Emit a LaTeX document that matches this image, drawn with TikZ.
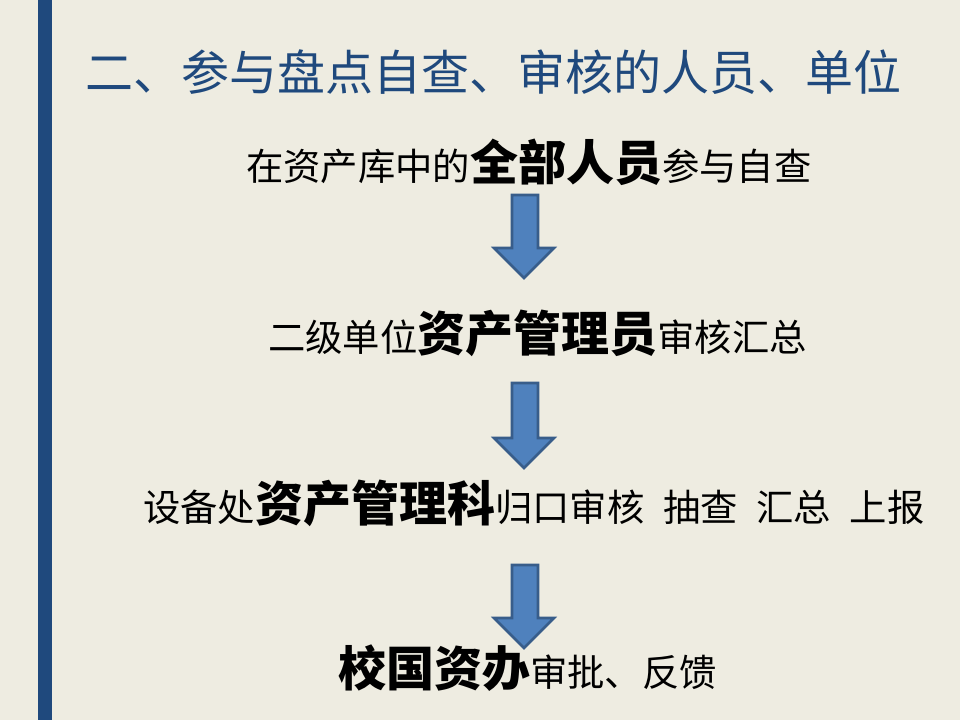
\documentclass[tikz,border=0pt]{standalone}
\usepackage{fontspec}
\setmainfont{Noto Sans CJK SC}
\definecolor{bg}{HTML}{EEECE1}
\definecolor{bar}{HTML}{1F497D}
\definecolor{arrf}{HTML}{4F81BD}
\definecolor{arrd}{HTML}{385D8A}
\newcommand{\bigb}[1]{{\fontsize{36}{40}\selectfont\bfseries #1}}
\newcommand{\myspc}{\hspace{0.5em}}
\begin{document}
\begin{tikzpicture}[x=0.75pt,y=-0.75pt,
  txt/.style={anchor=west,inner sep=0pt,font=\fontsize{28}{32}\selectfont},
  darrow/.style={fill=arrf,draw=arrd,line width=2pt,line join=miter}]
\fill[bg] (0,0) rectangle (960,720);
\useasboundingbox (0,0) rectangle (960,720);
\fill[bar] (38,0) rectangle (52,720);
\node[anchor=west,inner sep=0pt,text=bar,font=\fontsize{36}{40}\selectfont] (title) at (85,72) {二、参与盘点自查、审核的人员、单位};
\node[txt] (l1) at (246,162) {在资产库中的\bigb{全部人员}参与自查};
\node[txt] (l2) at (268,333) {二级单位\bigb{资产管理员}审核汇总};
\node[txt] (l3) at (143,503) {设备处\bigb{资产管理科}归口审核\myspc 抽查\myspc 汇总\myspc 上报};
\node[txt] (l4) at (338,668) {\bigb{校国资办}审批、反馈};
\foreach \t/\b in {195/278,383/468,565/648}{
  \pgfmathsetmacro{\h}{\b-30}
  \draw[darrow] (512,\t) -- (538,\t) -- (538,\h) -- (554,\h) -- (524,\b) -- (494,\h) -- (512,\h) -- cycle;
}
\end{tikzpicture}
\end{document}
